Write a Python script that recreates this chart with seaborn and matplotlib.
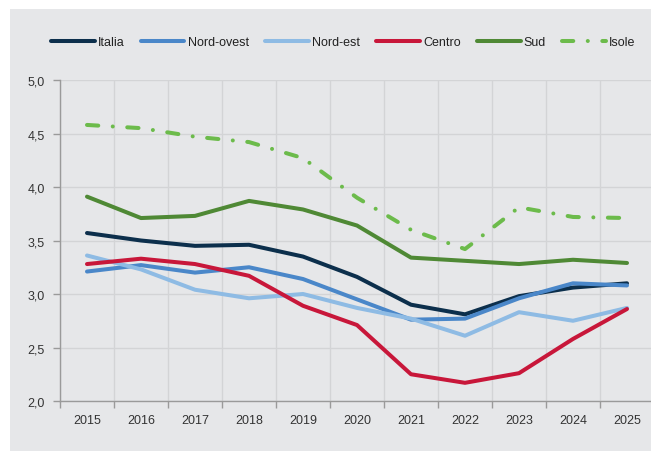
import numpy as np
import pandas as pd
import matplotlib.pyplot as plt
import seaborn as sns
from matplotlib.patches import Rectangle
from matplotlib.ticker import FixedLocator, FuncFormatter

# Data
years = [2015, 2016, 2017, 2018, 2019, 2020, 2021, 2022, 2023, 2024, 2025]
italia = [3.57, 3.50, 3.45, 3.46, 3.35, 3.16, 2.90, 2.81, 2.98, 3.06, 3.10]
nord_ovest = [3.21, 3.27, 3.20, 3.25, 3.14, 2.95, 2.76, 2.77, 2.96, 3.10, 3.08]
nord_est = [3.36, 3.23, 3.04, 2.96, 3.00, 2.87, 2.77, 2.61, 2.83, 2.75, 2.87]
centro = [3.28, 3.33, 3.28, 3.17, 2.89, 2.71, 2.25, 2.17, 2.26, 2.58, 2.86]
sud = [3.91, 3.71, 3.73, 3.87, 3.79, 3.64, 3.34, 3.31, 3.28, 3.32, 3.29]
isole = [4.58, 4.55, 4.47, 4.42, 4.27, 3.90, 3.60, 3.42, 3.81, 3.72, 3.71]

series = {
    'Italia': italia,
    'Nord-ovest': nord_ovest,
    'Nord-est': nord_est,
    'Centro': centro,
    'Sud': sud,
    'Isole': isole,
}
colors = {
    'Italia': '#0c2f4c',
    'Nord-ovest': '#4a87c9',
    'Nord-est': '#8ebbe4',
    'Centro': '#c8173a',
    'Sud': '#4f8935',
    'Isole': '#6cbb4b',
}

df = pd.DataFrame([(r, y, v) for r, vals in series.items() for y, v in zip(years, vals)],
                  columns=['regione', 'anno', 'valore'])

bg = '#e6e7e9'
sns.set_style('white')
plt.rcParams['font.family'] = ['Liberation Sans', 'DejaVu Sans']

fig = plt.figure(figsize=(6.51, 4.52), dpi=100, facecolor='white')
fig.patches.append(Rectangle((10 / 651, 0), 1, 1 - 10 / 452, transform=fig.transFigure,
                             facecolor=bg, edgecolor='none', zorder=-10))
ax = fig.add_axes([60 / 651, 0.1106, 594 / 651, 0.7102])
ax.set_facecolor(bg)

lw = 2.9
for name in series:
    sub = df[df['regione'] == name]
    sns.lineplot(data=sub, x='anno', y='valore', ax=ax, color=colors[name], lw=lw,
                 label=name, solid_capstyle='round', dash_capstyle='round')
isole_line = ax.get_lines()[-1]
isole_line.set_dashes((2.8, 3.6, 0.01, 3.6))

ax.set_xlim(2014.5, 2025.5)
ax.set_ylim(2.0, 5.0)
ax.set_xlabel('')
ax.set_ylabel('')

ax.xaxis.set_major_locator(FixedLocator(years))
ax.xaxis.set_minor_locator(FixedLocator([y - 0.5 for y in years] + [2025.5]))
ax.set_yticks(np.arange(2.0, 5.01, 0.5))
ax.yaxis.set_major_formatter(FuncFormatter(lambda v, p: f'{v:.1f}'.replace('.', ',')))

ax.tick_params(axis='x', which='major', length=0, pad=9, labelsize=9, colors='#333333')
ax.tick_params(axis='x', which='minor', length=5, width=1, color='#9a9a9a', bottom=True)
ax.tick_params(axis='y', which='major', length=5, width=1, color='#9a9a9a', left=True,
               pad=6, labelsize=9, labelcolor='#333333')

ax.grid(False)
ax.grid(axis='x', which='minor', color='#d3d4d6', lw=1)
ax.grid(axis='y', which='major', color='#d3d4d6', lw=1)
ax.set_axisbelow(True)

for side in ['top', 'right']:
    ax.spines[side].set_visible(False)
for side in ['left', 'bottom']:
    ax.spines[side].set_color('#9a9a9a')
    ax.spines[side].set_linewidth(1)

ax.get_legend().remove()
handles, labels = ax.get_legend_handles_labels()
fig.legend(handles, labels, loc='center', bbox_to_anchor=(0.527, 0.905), ncol=6,
           frameon=False, fontsize=9, handlelength=3.5, handletextpad=0.25,
           columnspacing=1.3, labelcolor='#222222')

plt.savefig('out.png', dpi=100, facecolor='white')
